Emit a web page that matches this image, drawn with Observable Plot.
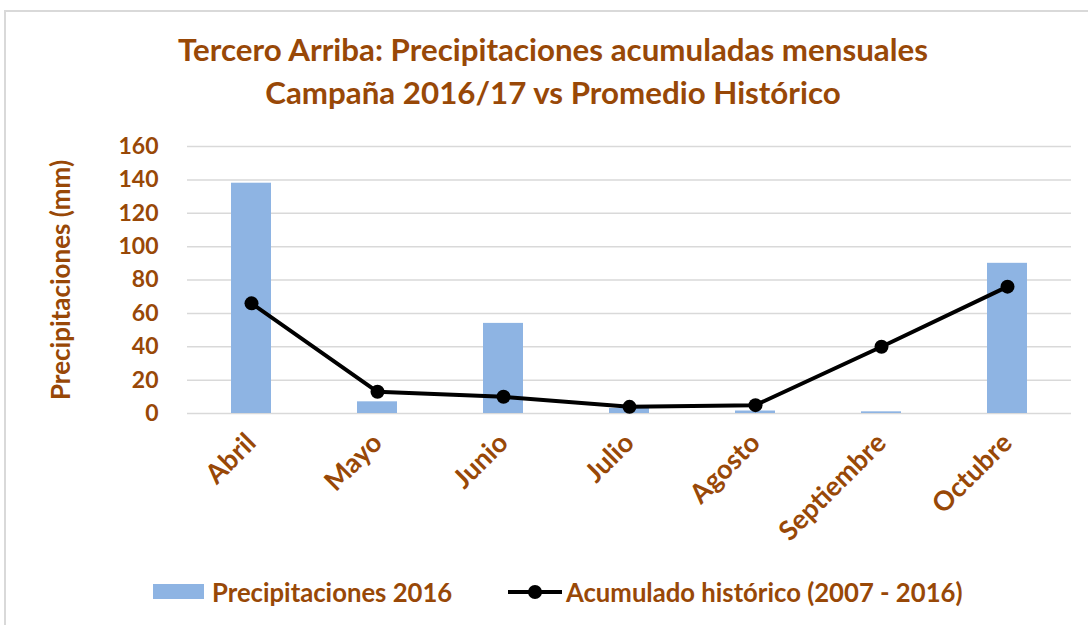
<!DOCTYPE html>
<html>
<head>
<meta charset="utf-8">
<script src="https://cdn.jsdelivr.net/npm/d3@7"></script>
<script src="https://cdn.jsdelivr.net/npm/@observablehq/plot@0.6"></script>
<style>
  body { margin: 0; background: #fff; font-family: Lato, "Open Sans", sans-serif; }
  #wrap { position: relative; width: 1088px; height: 625px; overflow: hidden; }
  #frame { position: absolute; left: 4px; top: 10px; width: 1200px; height: 700px; border-top: 2px solid #d9d9d9; border-left: 2px solid #d9d9d9; }
  #title { position: absolute; left: 0; top: 28px; width: 1106px; text-align: center; color: #984807; font-weight: bold; font-size: 31.3px; line-height: 43px; }
  #chart { position: absolute; left: 0; top: 120px; }
  #legend { position: absolute; left: 0; top: 576px; width: 1088px; height: 32px; color: #984807; font-weight: bold; font-size: 25.7px; }
  .lg { position: absolute; top: 0; line-height: 32px; white-space: nowrap; }
</style>
</head>
<body>
<div id="wrap">
  <div id="frame"></div>
  <div id="title">Tercero Arriba: Precipitaciones acumuladas mensuales<br>Campaña 2016/17 vs Promedio Histórico</div>
  <div id="chart"></div>
  <div id="legend"></div>
</div>
<script>
const months = ["Abril", "Mayo", "Junio", "Julio", "Agosto", "Septiembre", "Octubre"];
const precip2016 = [138, 7, 54, 3, 1.5, 1, 90];
const historico = [66, 13, 10, 4, 5, 40, 76];
const yTicks = [0, 20, 40, 60, 80, 100, 120, 140, 160];
const yTitle = "Precipitaciones (mm)";
const seriesNames = ["Precipitaciones 2016", "Acumulado histórico (2007 - 2016)"];

const brown = "#984807";
const barColor = "#8EB4E3";

const data = months.map((m, i) => ({month: m, precip: precip2016[i], hist: historico[i]}));

const plot = Plot.plot({
  width: 1088,
  height: 420,
  marginLeft: 187,
  marginRight: 17,
  marginTop: 26,
  marginBottom: 127,
  style: {fontFamily: "Lato, 'Open Sans', sans-serif", fontSize: "23px", fontWeight: "bold", color: brown, background: "transparent", overflow: "visible"},
  x: {domain: months, paddingInner: 0.68, paddingOuter: 0.34, label: null, tickSize: 0, tickPadding: 25, tickRotate: -45},
  y: {domain: [0, 160], ticks: yTicks, label: null, tickSize: 0, tickPadding: 29},
  marks: [
    Plot.ruleY(yTicks, {stroke: "#d9d9d9", strokeWidth: 1.5}),
    Plot.barY(data, {x: "month", y: "precip", fill: barColor}),
    Plot.line(data, {x: "month", y: "hist", stroke: "black", strokeWidth: 4}),
    Plot.dot(data, {x: "month", y: "hist", fill: "black", r: 7}),
    Plot.text([yTitle], {text: d => d, frameAnchor: "left", textAnchor: "middle", dx: -126, rotate: -90, fill: brown, fontSize: 26, fontWeight: "bold"})
  ]
});
document.getElementById("chart").appendChild(plot);
// x tick labels slightly larger, as in the reference
plot.querySelectorAll("[aria-label='x-axis tick label'] text, [aria-label='x-axis'] text").forEach(t => t.style.fontSize = "27px");

// Legend
const legend = document.getElementById("legend");
legend.innerHTML = `
  <svg class="lg" style="left:152px" width="54" height="32"><rect x="1" y="8" width="51" height="15" fill="${barColor}"></rect></svg>
  <span class="lg" style="left:212px">${seriesNames[0]}</span>
  <svg class="lg" style="left:506px" width="58" height="32"><line x1="2" x2="56" y1="16" y2="16" stroke="black" stroke-width="4"></line><circle cx="29" cy="16" r="7" fill="black"></circle></svg>
  <span class="lg" style="left:566px">${seriesNames[1]}</span>`;
</script>
</body>
</html>
